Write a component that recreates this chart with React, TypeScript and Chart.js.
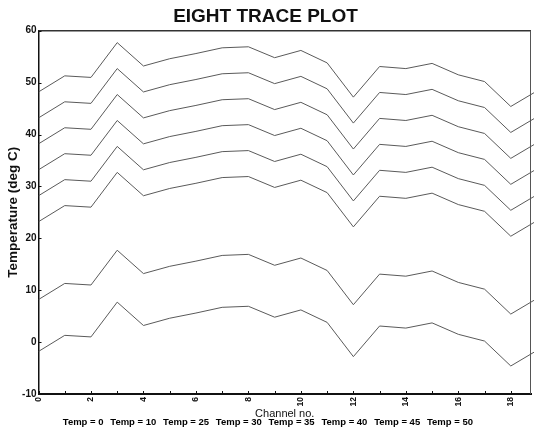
import React, { useEffect, useRef } from "react";
import { Chart, registerables } from "chart.js";

Chart.register(...registerables);

// Channel numbers (x values)
const channels = [0, 1, 2, 3, 4, 5, 6, 7, 8, 9, 10, 11, 12, 13, 14, 15, 16, 17, 18, 19];

// One trace per temperature setting
const seriesLabels = [
  "Temp = 0",
  "Temp = 10",
  "Temp = 25",
  "Temp = 30",
  "Temp = 35",
  "Temp = 40",
  "Temp = 45",
  "Temp = 50",
];

const temp0 = [-1.8, 1.3, 1.0, 7.7, 3.2, 4.6, 5.6, 6.7, 6.9, 4.8, 6.2, 3.8, -2.8, 3.1, 2.7, 3.7, 1.5, 0.2, -4.6, -1.6];
const temp10 = [8.2, 11.3, 11.0, 17.7, 13.2, 14.6, 15.6, 16.7, 16.9, 14.8, 16.2, 13.8, 7.2, 13.1, 12.7, 13.7, 11.5, 10.2, 5.4, 8.4];
const temp25 = [23.2, 26.3, 26.0, 32.7, 28.2, 29.6, 30.6, 31.7, 31.9, 29.8, 31.2, 28.8, 22.2, 28.1, 27.7, 28.7, 26.5, 25.2, 20.4, 23.4];
const temp30 = [28.2, 31.3, 31.0, 37.7, 33.2, 34.6, 35.6, 36.7, 36.9, 34.8, 36.2, 33.8, 27.2, 33.1, 32.7, 33.7, 31.5, 30.2, 25.4, 28.4];
const temp35 = [33.2, 36.3, 36.0, 42.7, 38.2, 39.6, 40.6, 41.7, 41.9, 39.8, 41.2, 38.8, 32.2, 38.1, 37.7, 38.7, 36.5, 35.2, 30.4, 33.4];
const temp40 = [38.2, 41.3, 41.0, 47.7, 43.2, 44.6, 45.6, 46.7, 46.9, 44.8, 46.2, 43.8, 37.2, 43.1, 42.7, 43.7, 41.5, 40.2, 35.4, 38.4];
const temp45 = [43.2, 46.3, 46.0, 52.7, 48.2, 49.6, 50.6, 51.7, 51.9, 49.8, 51.2, 48.8, 42.2, 48.1, 47.7, 48.7, 46.5, 45.2, 40.4, 43.4];
const temp50 = [48.2, 51.3, 51.0, 57.7, 53.2, 54.6, 55.6, 56.7, 56.9, 54.8, 56.2, 53.8, 47.2, 53.1, 52.7, 53.7, 51.5, 50.2, 45.4, 48.4];

// Axis ranges / tick settings
const X_MIN = 0;
const X_MAX = 18.77;
const Y_MIN = -10;
const Y_MAX = 60;
const Y_STEP = 10;

const TITLE = "EIGHT TRACE PLOT";
const X_TITLE = "Channel no.";
const Y_TITLE = "Temperature (deg C)";

const FONT = "'Liberation Sans', Arial, Helvetica, sans-serif";

export default function App() {
  const ref = useRef<HTMLCanvasElement | null>(null);

  useEffect(() => {
    if (!ref.current) return;
    const series = [temp0, temp10, temp25, temp30, temp35, temp40, temp45, temp50];

    const framePlugin = {
      id: "frame",
      afterDraw(chart: any) {
        const { ctx, chartArea } = chart;
        const xs = chart.scales.x;
        const ys = chart.scales.y;
        ctx.save();
        // top border
        ctx.strokeStyle = "#333";
        ctx.lineWidth = 1.5;
        ctx.beginPath();
        ctx.moveTo(chartArea.left, chartArea.top);
        ctx.lineTo(chartArea.right, chartArea.top);
        ctx.stroke();
        // right border
        ctx.strokeStyle = "#555";
        ctx.lineWidth = 1;
        ctx.beginPath();
        ctx.moveTo(chartArea.right - 0.5, chartArea.top);
        ctx.lineTo(chartArea.right - 0.5, chartArea.bottom);
        ctx.stroke();
        // inner tick marks
        ctx.strokeStyle = "#111";
        ctx.lineWidth = 1;
        ctx.beginPath();
        xs.ticks.forEach((t: any) => {
          const px = Math.round(xs.getPixelForValue(t.value)) + 0.5;
          ctx.moveTo(px, chartArea.bottom);
          ctx.lineTo(px, chartArea.bottom - 3);
        });
        ys.ticks.forEach((t: any) => {
          const py = Math.round(ys.getPixelForValue(t.value)) + 0.5;
          ctx.moveTo(chartArea.left, py);
          ctx.lineTo(chartArea.left + 3, py);
        });
        ctx.stroke();
        ctx.restore();
      },
    };

    const chart = new Chart(ref.current, {
      type: "line",
      data: {
        labels: channels,
        datasets: series.map((d, i) => ({
          label: seriesLabels[i],
          data: d,
          borderColor: "#5a5a5a",
          backgroundColor: "#5a5a5a",
          borderWidth: 1,
          pointRadius: 0,
          tension: 0,
          fill: false,
          clip: { left: 0, top: 0, bottom: 0, right: 3 } as any,
        })),
      },
      options: {
        animation: false,
        responsive: false,
        events: [],
        layout: { padding: { left: 0, right: 3, top: 0, bottom: -8.75 } },
        plugins: {
          tooltip: { enabled: false },
          title: {
            display: true,
            text: TITLE,
            color: "#111",
            font: { family: FONT, size: 19, weight: "bold", lineHeight: 1.2 },
            padding: { top: 5.6, bottom: 2.3 },
          },
          legend: {
            display: true,
            position: "bottom",
            labels: {
              color: "#111",
              font: { family: FONT, size: 9.5, weight: "bold" },
              boxWidth: 0,
              boxHeight: 0,
              padding: 2,
              generateLabels: (c: any) =>
                c.data.datasets.map((ds: any, i: number) => ({
                  text: ds.label,
                  fillStyle: "rgba(0,0,0,0)",
                  strokeStyle: "rgba(0,0,0,0)",
                  lineWidth: 0,
                  hidden: false,
                  datasetIndex: i,
                })),
            },
          },
        },
        scales: {
          x: {
            type: "linear",
            min: X_MIN,
            max: X_MAX,
            grid: { display: false, drawTicks: false },
            border: { display: true, color: "#111", width: 2 },
            afterBuildTicks: (scale: any) => {
              scale.ticks = channels.filter((c) => c <= X_MAX).map((v) => ({ value: v }));
            },
            afterFit: (scale: any) => {
              scale.height = 21.25;
            },
            ticks: {
              autoSkip: false,
              minRotation: 90,
              maxRotation: 90,
              padding: 3,
              color: "#111",
              font: { family: FONT, size: 8.5, weight: "bold" },
              callback: (v: any) => (Number(v) % 2 === 0 ? String(v) : ""),
            },
            title: {
              display: true,
              text: X_TITLE,
              color: "#111",
              font: { family: FONT, size: 11 },
              padding: { top: 0, bottom: -5.1 },
            },
          },
          y: {
            type: "linear",
            min: Y_MIN,
            max: Y_MAX,
            grid: { display: false, drawTicks: false },
            border: { display: true, color: "#111", width: 1.5 },
            afterFit: (scale: any) => {
              scale.width = 38.5;
            },
            ticks: {
              stepSize: Y_STEP,
              padding: 2,
              color: "#111",
              font: { family: FONT, size: 10, weight: "bold" },
            },
            title: {
              display: true,
              text: Y_TITLE,
              color: "#111",
              font: { family: FONT, size: 13.5, weight: "bold" },
              padding: { top: 5.3, bottom: 0 },
            },
          },
        },
      },
      plugins: [framePlugin],
    } as any);

    return () => chart.destroy();
  }, []);

  return (
    <div style={{ position: "fixed", left: 0, top: 0, width: 534, height: 428, background: "#fff" }}>
      <canvas ref={ref} width={534} height={428} style={{ display: "block" }} />
    </div>
  );
}
